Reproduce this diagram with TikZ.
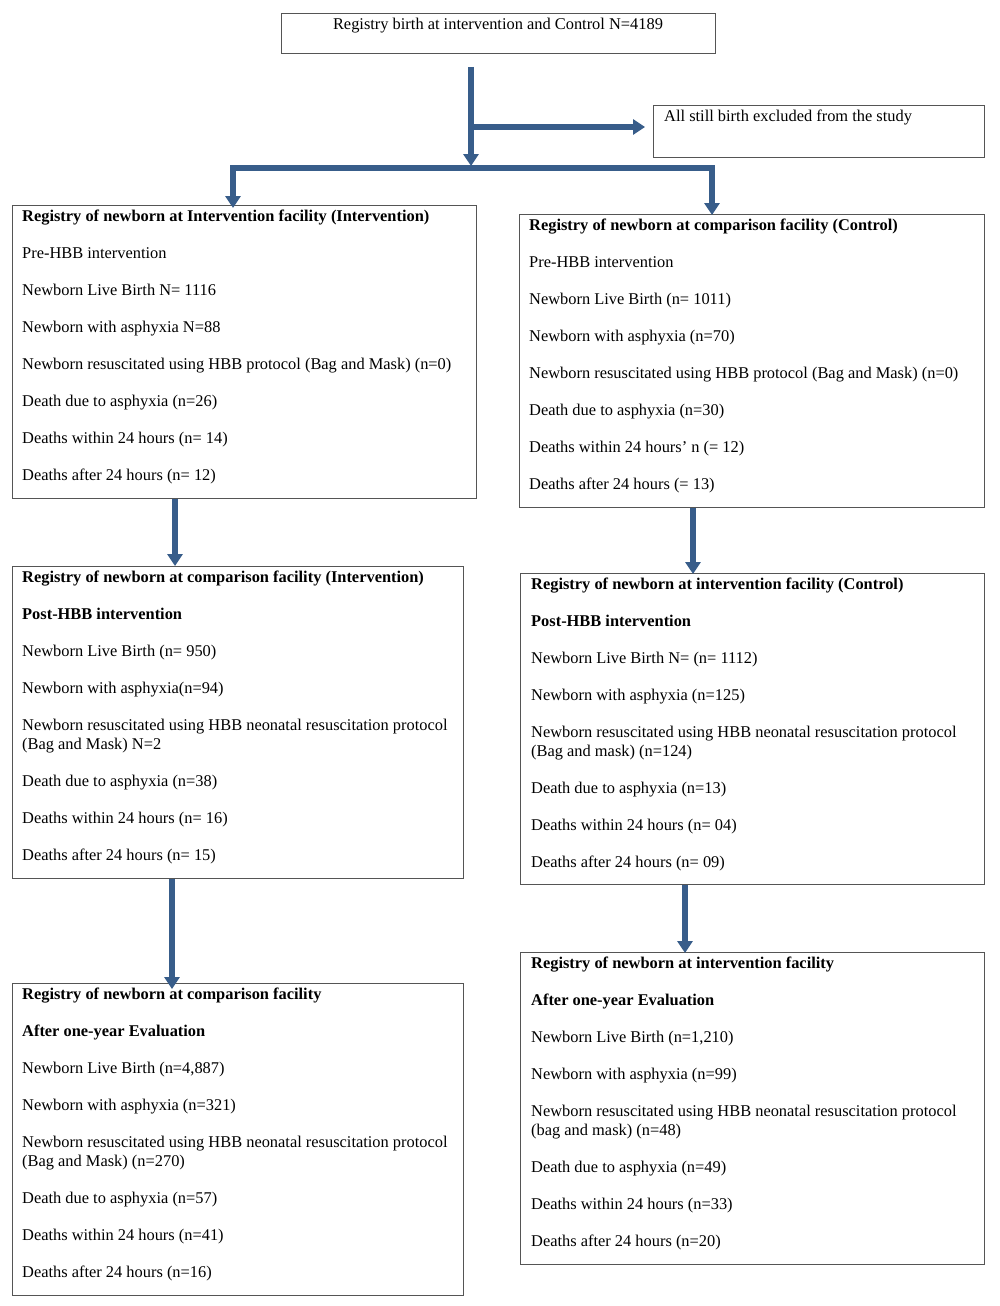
\documentclass[tikz,border=0pt]{standalone}
\usepackage{fontspec}
\setmainfont{Liberation Serif}
\usetikzlibrary{arrows.meta}
\definecolor{arrblue}{RGB}{56,93,138}
\definecolor{frame}{RGB}{85,85,85}
\tikzset{
  box/.style={draw=frame, line width=0.9pt, anchor=north west, inner sep=0pt},
  txt/.style={anchor=north west, inner sep=0pt, align=left, font=\fontsize{16.4}{19}\selectfont},
  arr/.style={draw=arrblue, line width=6pt, -{Triangle[width=15pt,length=12pt]}},
  bar/.style={draw=arrblue, line width=6pt}
}
\newcommand{\gap}{\\[17.9pt]}
\newcommand{\fs}{\rule{0pt}{11pt}}
\begin{document}
\begin{tikzpicture}[x=1pt,y=-1pt]
\useasboundingbox (0,0) rectangle (1000,1306);
% boxes
\node[box, minimum width=434pt, minimum height=40pt] (top) at (281,13) {};
\node[txt, anchor=north] (toptxt) at (498,18) {\fs Registry birth at intervention and Control N=4189};
\node[box, minimum width=331pt, minimum height=52pt] (ex) at (653,105) {};
\node[txt] (extxt) at (664,110) {\fs All still birth excluded from the study};

\node[box, minimum width=464pt, minimum height=293pt] (A) at (12,205) {};
\node[txt] (Atxt) at (22,210) {\fs\textbf{Registry of newborn at Intervention facility (Intervention)}\gap
Pre-HBB intervention\gap
Newborn Live Birth N= 1116\gap
Newborn with asphyxia N=88\gap
Newborn resuscitated using HBB protocol (Bag and Mask) (n=0)\gap
Death due to asphyxia (n=26)\gap
Deaths within 24 hours (n= 14)\gap
Deaths after 24 hours (n= 12)};

\node[box, minimum width=465pt, minimum height=293pt] (B) at (519,214) {};
\node[txt] (Btxt) at (529,219) {\fs\textbf{Registry of newborn at comparison facility (Control)}\gap
Pre-HBB intervention\gap
Newborn Live Birth (n= 1011)\gap
Newborn with asphyxia (n=70)\gap
Newborn resuscitated using HBB protocol (Bag and Mask) (n=0)\gap
Death due to asphyxia (n=30)\gap
Deaths within 24 hours’ n (= 12)\gap
Deaths after 24 hours (= 13)};

\node[box, minimum width=451pt, minimum height=312pt] (C) at (12,566) {};
\node[txt] (Ctxt) at (22,571) {\fs\textbf{Registry of newborn at comparison facility (Intervention)}\gap
\textbf{Post-HBB intervention}\gap
Newborn Live Birth (n= 950)\gap
Newborn with asphyxia(n=94)\gap
Newborn resuscitated using HBB neonatal resuscitation protocol\\
(Bag and Mask) N=2\gap
Death due to asphyxia (n=38)\gap
Deaths within 24 hours (n= 16)\gap
Deaths after 24 hours (n= 15)};

\node[box, minimum width=464pt, minimum height=311pt] (D) at (520,573) {};
\node[txt] (Dtxt) at (531,578) {\fs\textbf{Registry of newborn at intervention facility (Control)}\gap
\textbf{Post-HBB intervention}\gap
Newborn Live Birth N= (n= 1112)\gap
Newborn with asphyxia (n=125)\gap
Newborn resuscitated using HBB neonatal resuscitation protocol\\
(Bag and mask) (n=124)\gap
Death due to asphyxia (n=13)\gap
Deaths within 24 hours (n= 04)\gap
Deaths after 24 hours (n= 09)};

\node[box, minimum width=451pt, minimum height=312pt] (E) at (12,983) {};
\node[txt] (Etxt) at (22,988) {\fs\textbf{Registry of newborn at comparison facility}\gap
\textbf{After one-year Evaluation}\gap
Newborn Live Birth (n=4,887)\gap
Newborn with asphyxia (n=321)\gap
Newborn resuscitated using HBB neonatal resuscitation protocol\\
(Bag and Mask) (n=270)\gap
Death due to asphyxia (n=57)\gap
Deaths within 24 hours (n=41)\gap
Deaths after 24 hours (n=16)};

\node[box, minimum width=464pt, minimum height=312pt] (F) at (520,952) {};
\node[txt] (Ftxt) at (531,957) {\fs\textbf{Registry of newborn at intervention facility}\gap
\textbf{After one-year Evaluation}\gap
Newborn Live Birth (n=1,210)\gap
Newborn with asphyxia (n=99)\gap
Newborn resuscitated using HBB neonatal resuscitation protocol\\
(bag and mask) (n=48)\gap
Death due to asphyxia (n=49)\gap
Deaths within 24 hours (n=33)\gap
Deaths after 24 hours (n=20)};

% connector coordinates
\coordinate (m0) at (471,67);
\coordinate (m1) at (471,166);
\coordinate (br) at (471,127);
\coordinate (barmid) at (471,168);
\coordinate (ax) at (233,0);
\coordinate (bx) at (712,0);
\coordinate (acx) at (175,0);
\coordinate (bdx) at (693,0);
\coordinate (cex) at (172,0);
\coordinate (dfx) at (685,0);

\draw[arr] (m0) -- (m1);
\draw[arr] (br) -- ([xshift=-8pt]br -| ex.west);
\draw[arr] (barmid) -| ([yshift=-3pt]A.north -| ax);
\draw[arr] (barmid) -| ([yshift=-1pt]B.north -| bx);
\draw[arr] (A.south -| acx) -- (C.north -| acx);
\draw[arr] (B.south -| bdx) -- ([yshift=-1pt]D.north -| bdx);
\draw[arr] (C.south -| cex) -- ([yshift=-6pt]E.north -| cex);
\draw[arr] (D.south -| dfx) -- ([yshift=-1pt]F.north -| dfx);
\end{tikzpicture}
\end{document}
